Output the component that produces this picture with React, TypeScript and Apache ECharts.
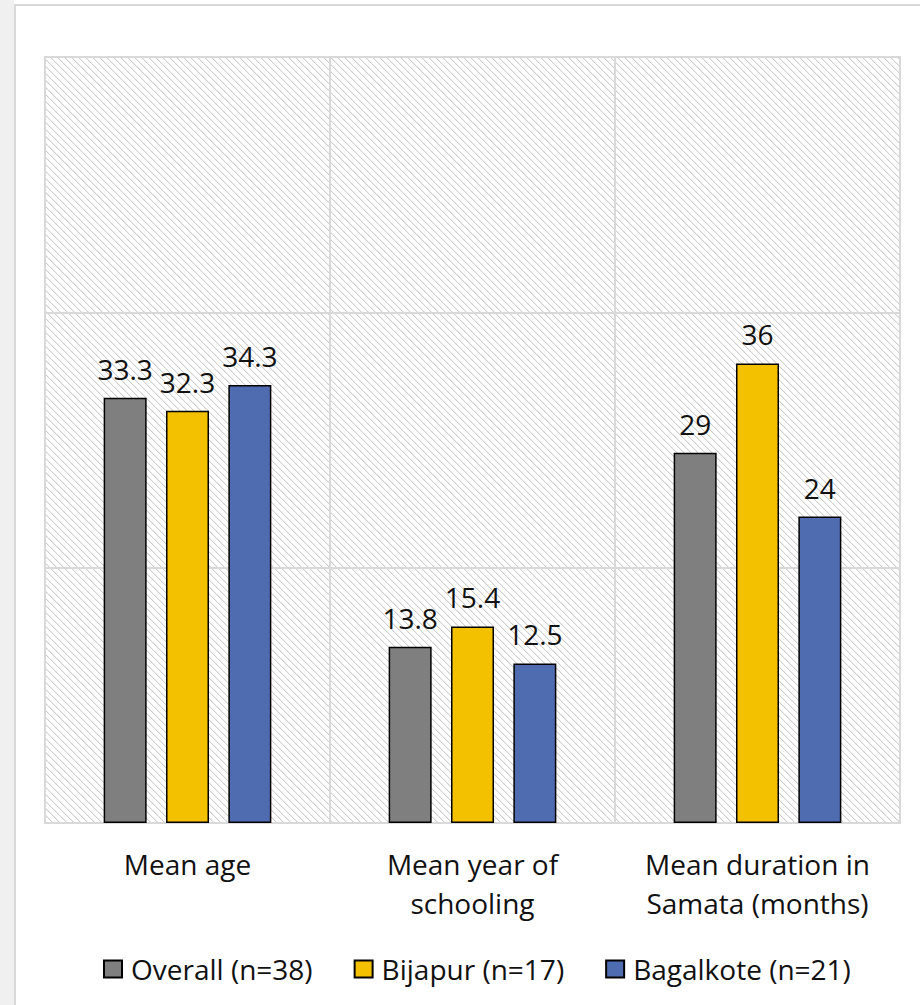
import React, { useEffect, useRef } from "react";
import * as echarts from "echarts";

// Chart data
const categories = ["Mean age", "Mean year of\nschooling", "Mean duration in\nSamata (months)"];
const seriesNames = ["Overall (n=38)", "Bijapur (n=17)", "Bagalkote (n=21)"];
const overall = [33.3, 13.8, 29];
const bijapur = [32.3, 15.4, 36];
const bagalkote = [34.3, 12.5, 24];
const yMin = 0;
const yMax = 60;
const yInterval = 20;

const colors = ["#7F7F7F", "#F4C100", "#506CB0"];
const FONT = "'Open Sans', sans-serif";
const FONT_SIZE = 28;
const GRID_LINE = "#d9d9d9";

// Light diagonal hatch used as the plot-area fill
function hatchTile(): HTMLCanvasElement {
  const size = 7;
  const c = document.createElement("canvas");
  c.width = size;
  c.height = size;
  const ctx = c.getContext("2d")!;
  ctx.fillStyle = "#ffffff";
  ctx.fillRect(0, 0, size, size);
  ctx.fillStyle = "#cfcfcf";
  for (let i = 0; i < size; i++) {
    ctx.fillRect(i, i, 1, 1);
  }
  ctx.fillStyle = "#efefef";
  for (let i = 0; i < size; i++) {
    ctx.fillRect((i + 1) % size, i, 1, 1);
  }
  return c;
}

export default function App() {
  const ref = useRef<HTMLDivElement>(null);

  useEffect(() => {
    document.body.style.margin = "0";
    if (!ref.current) return;
    const chart = echarts.init(ref.current, null, { renderer: "svg" });
    const tile = hatchTile();

    const barSeries = [overall, bijapur, bagalkote].map((data, i) => ({
      name: seriesNames[i],
      type: "bar" as const,
      data,
      barWidth: 43,
      barGap: "45%",
      itemStyle: { color: colors[i], borderColor: "#000000", borderWidth: 1.5 },
      label: {
        show: true,
        position: "top" as const,
        distance: 15,
        color: "#111111",
        fontFamily: FONT,
        fontSize: FONT_SIZE,
      },
    }));

    chart.setOption({
      animation: false,
      backgroundColor: "#ffffff",
      graphic: [
        { type: "rect", shape: { x: 0, y: 0, width: 14, height: 1005 }, style: { fill: "#f0f0f0" }, silent: true },
        { type: "rect", shape: { x: 14, y: 4, width: 2, height: 1001 }, style: { fill: "#d9d9d9" }, silent: true },
        { type: "rect", shape: { x: 14, y: 4, width: 906, height: 2 }, style: { fill: "#d9d9d9" }, silent: true },
      ],
      grid: {
        show: true,
        left: 45,
        top: 57,
        width: 855,
        height: 766,
        backgroundColor: { image: tile, repeat: "repeat", imageWidth: 7, imageHeight: 7 },
        borderColor: GRID_LINE,
        borderWidth: 2,
        containLabel: false,
      },
      legend: {
        data: seriesNames,
        left: 98,
        top: 950,
        icon: "rect",
        itemWidth: 18,
        itemHeight: 17,
        itemGap: 41,
        textStyle: {
          fontFamily: FONT,
          fontSize: FONT_SIZE,
          color: "#111111",
          padding: [0, 0, 0, 4],
        },
      },
      xAxis: {
        type: "category",
        data: categories,
        axisLine: { show: true, lineStyle: { color: GRID_LINE, width: 2 } },
        axisTick: { show: false },
        splitLine: { show: true, lineStyle: { color: GRID_LINE, width: 2 } },
        axisLabel: {
          fontFamily: FONT,
          fontSize: FONT_SIZE,
          color: "#111111",
          lineHeight: 39,
          margin: 21,
          interval: 0,
        },
      },
      yAxis: {
        type: "value",
        min: yMin,
        max: yMax,
        interval: yInterval,
        axisLabel: { show: false },
        axisLine: { show: false },
        axisTick: { show: false },
        splitLine: { show: true, lineStyle: { color: GRID_LINE, width: 2 } },
      },
      series: barSeries,
    });

    return () => chart.dispose();
  }, []);

  return <div ref={ref} style={{ width: 920, height: 1005 }} />;
}
